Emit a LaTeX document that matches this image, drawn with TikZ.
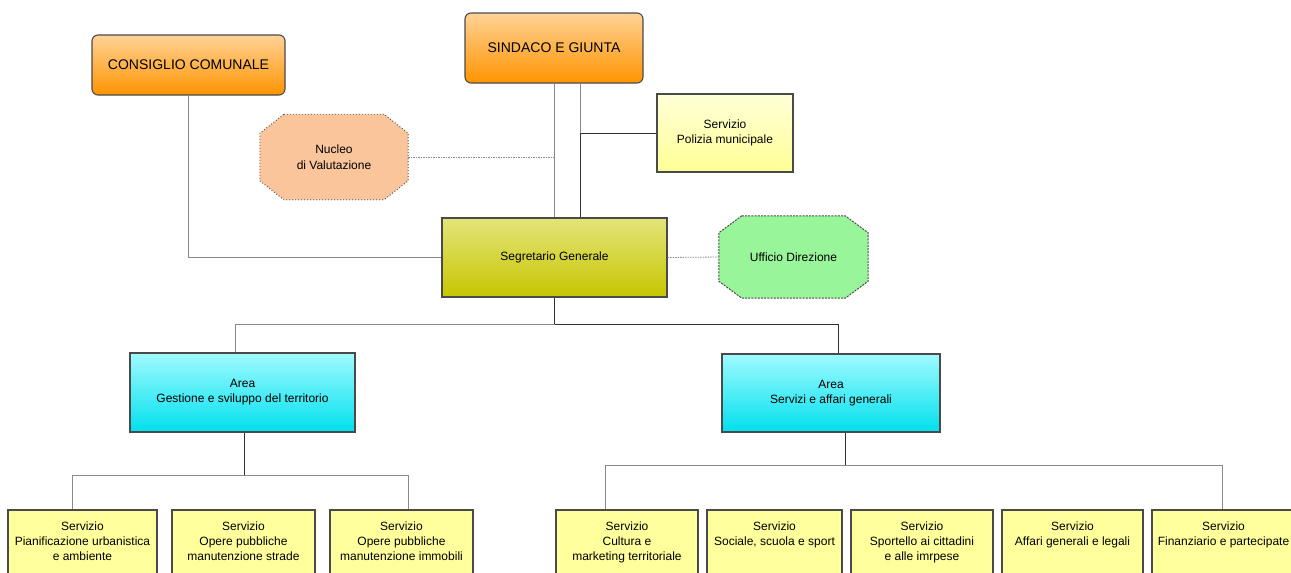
\documentclass[tikz,border=0pt]{standalone}
\usepackage{fontspec}
\setmainfont{Liberation Sans}
\definecolor{orTop}{HTML}{FFD296}
\definecolor{orMid}{HTML}{FFA21E}
\definecolor{orBot}{HTML}{FF9400}
\definecolor{ylTop}{HTML}{FFFFD8}
\definecolor{ylBot}{HTML}{FFFF96}
\definecolor{svcFill}{HTML}{FFFF9C}
\definecolor{sgTop}{HTML}{E4E47A}
\definecolor{sgMid}{HTML}{CFCF0A}
\definecolor{sgBot}{HTML}{C6C600}
\definecolor{arTop}{HTML}{A0FAFF}
\definecolor{arMid}{HTML}{28EAF2}
\definecolor{arBot}{HTML}{00E0EC}
\definecolor{peach}{HTML}{FBC59C}
\definecolor{lgreen}{HTML}{99F59A}
\definecolor{bord}{HTML}{4A4A4A}
\definecolor{lineg}{HTML}{8A8A8A}
\definecolor{lined}{HTML}{303030}
\begin{document}
\begin{tikzpicture}[x=1pt,y=-1pt,
  basebox/.style={draw=bord, line width=1.1pt, inner sep=0pt, align=center,
    font=\fontsize{12}{15}\selectfont},
  orbox/.style={basebox, rounded corners=6pt, top color=orTop, middle color=orMid,
    bottom color=orBot, font=\fontsize{14}{17}\selectfont},
  polbox/.style={basebox, top color=ylTop, bottom color=ylBot},
  sgbox/.style={basebox, top color=sgTop, middle color=sgMid, bottom color=sgBot},
  arbox/.style={basebox, top color=arTop, middle color=arMid, bottom color=arBot},
  svcbox/.style={basebox, fill=svcFill, minimum height=80},
  svctext/.style={inner sep=0pt, align=center, anchor=north, font=\fontsize{12}{15}\selectfont},
  octxt/.style={inner sep=0pt, align=center, font=\fontsize{12}{16}\selectfont},
  conn/.style={draw=lineg, line width=0.8pt},
  dconn/.style={draw=lined, line width=0.9pt},
  dotconn/.style={draw=lineg, line width=0.8pt, dash pattern=on 1.5pt off 1pt}
]
\clip (0,0) rectangle (1291,573);
\fill[white] (0,0) rectangle (1291,573);

% top level
\node[orbox, minimum width=193, minimum height=60] (cc) at (188.5,65) {CONSIGLIO COMUNALE};
\node[orbox, minimum width=178, minimum height=70] (sj) at (554,48) {SINDACO E GIUNTA};
\node[polbox, minimum width=136, minimum height=78] (pol) at (725,133) {Servizio\\Polizia municipale};
\node[sgbox, minimum width=225, minimum height=79] (sg) at (554.5,257.5) {Segretario Generale};

% octagons
\node[octxt, minimum width=148, minimum height=85] (nv) at (334,157) {Nucleo\\di Valutazione};
\fill[peach] ([xshift=24]nv.north west) -- ([xshift=-24]nv.north east) -- ([yshift=-19]nv.north east)
  -- ([yshift=19]nv.south east) -- ([xshift=-24]nv.south east) -- ([xshift=24]nv.south west)
  -- ([yshift=19]nv.south west) -- ([yshift=-19]nv.north west) -- cycle;
\draw[bord, line width=1.1pt, dash pattern=on 0.8pt off 2.2pt] ([xshift=24]nv.north west) -- ([xshift=-24]nv.north east) -- ([yshift=-19]nv.north east)
  -- ([yshift=19]nv.south east) -- ([xshift=-24]nv.south east) -- ([xshift=24]nv.south west)
  -- ([yshift=19]nv.south west) -- ([yshift=-19]nv.north west) -- cycle;
\node[octxt] at (nv.center) {Nucleo\\di Valutazione};

\node[octxt, minimum width=149, minimum height=82] (ud) at (793.5,257) {Ufficio Direzione};
\fill[lgreen] ([xshift=23]ud.north west) -- ([xshift=-23]ud.north east) -- ([yshift=-17]ud.north east)
  -- ([yshift=17]ud.south east) -- ([xshift=-23]ud.south east) -- ([xshift=23]ud.south west)
  -- ([yshift=17]ud.south west) -- ([yshift=-17]ud.north west) -- cycle;
\draw[bord, line width=1pt, dash pattern=on 2pt off 1.2pt] ([xshift=23]ud.north west) -- ([xshift=-23]ud.north east) -- ([yshift=-17]ud.north east)
  -- ([yshift=17]ud.south east) -- ([xshift=-23]ud.south east) -- ([xshift=23]ud.south west)
  -- ([yshift=17]ud.south west) -- ([yshift=-17]ud.north west) -- cycle;
\node[octxt] at (ud.center) {Ufficio Direzione};

% areas
\node[arbox, minimum width=225, minimum height=79] (ag) at (242.5,392.5) {Area\\Gestione e sviluppo del territorio};
\node[arbox, minimum width=218, minimum height=78] (as) at (831,393) {Area\\Servizi e affari generali};

% services
\node[svcbox, minimum width=149] (s1) at (82.5,550) {};
\node[svcbox, minimum width=143] (s2) at (243.5,550) {};
\node[svcbox, minimum width=143] (s3) at (401.5,550) {};
\node[svcbox, minimum width=142] (s4) at (627,550) {};
\node[svcbox, minimum width=135] (s5) at (774.5,550) {};
\node[svcbox, minimum width=142] (s6) at (922,550) {};
\node[svcbox, minimum width=141] (s7) at (1072.5,550) {};
\node[svcbox, minimum width=143] (s8) at (1223.5,550) {};
\node[svctext] (t1) at ([yshift=-12]s1.north) {Servizio\\Pianificazione urbanistica\\e ambiente};
\node[svctext] (t2) at ([yshift=-12]s2.north) {Servizio\\Opere pubbliche\\manutenzione strade};
\node[svctext] (t3) at ([yshift=-12]s3.north) {Servizio\\Opere pubbliche\\manutenzione immobili};
\node[svctext] (t4) at ([yshift=-12]s4.north) {Servizio\\Cultura e\\marketing territoriale};
\node[svctext] (t5) at ([yshift=-12]s5.north) {Servizio\\Sociale, scuola e sport};
\node[svctext] (t6) at ([yshift=-12]s6.north) {Servizio\\Sportello ai cittadini\\e alle imrpese};
\node[svctext] (t7) at ([yshift=-12]s7.north) {Servizio\\Affari generali e legali};
\node[svctext] (t8) at ([yshift=-12]s8.north) {Servizio\\Finanziario e partecipate};

% connectors
\draw[conn] (cc.south) |- (sg.west);
\draw[conn] (sj.south) -- (sj.south |- sg.north);
\coordinate (pj) at (580,133);
\draw[conn] (pj |- sj.south) -- (pj);
\draw[dconn] (pol.west) -| (pj |- sg.north);
\draw[dotconn] (nv.east) -- (nv.east -| sj.south);
\draw[dotconn] (sg.east) -- (ud.west);

\coordinate (j1) at (554.5,324);
\draw[dconn] (sg.south) -- (j1) -| ([xshift=7]as.north);
\draw[conn] (j1) -| ([xshift=-7.5]ag.north);

\coordinate (j2) at (244,475);
\draw[dconn] (ag.south -| j2) -- (j2);
\draw[conn] (j2) -| ([xshift=-10.5]s1.north);
\draw[conn] (j2) -| ([xshift=6.5]s3.north);

\coordinate (j3) at (845,465);
\draw[dconn] (as.south -| j3) -- (j3);
\draw[conn] (j3) -| ([xshift=-22]s4.north);
\draw[conn] (j3) -| ([xshift=-1.5]s8.north);
\end{tikzpicture}
\end{document}
